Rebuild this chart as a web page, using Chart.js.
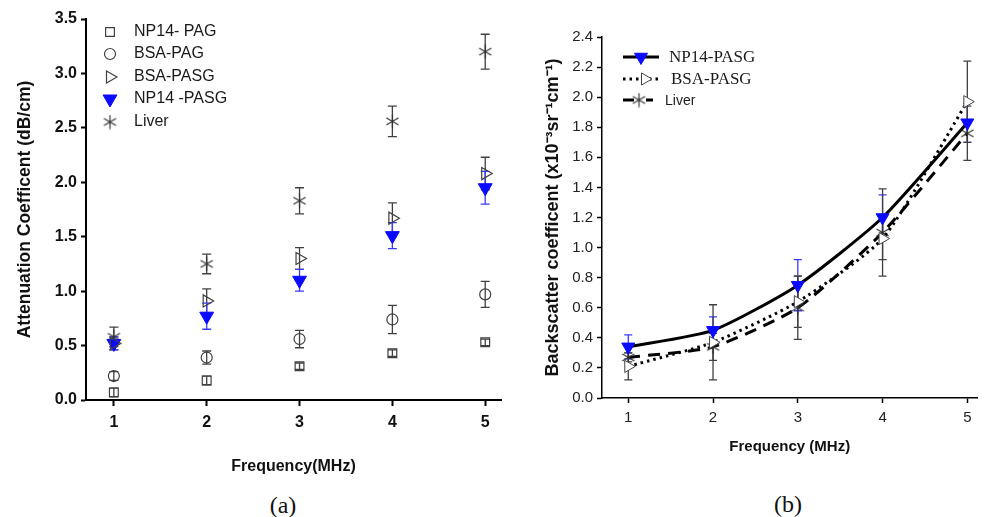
<!DOCTYPE html>
<html><head><meta charset="utf-8">
<script src="https://cdn.jsdelivr.net/npm/chart.js@4.4.1/dist/chart.umd.min.js"></script>
<style>
html,body{margin:0;padding:0;background:#fff;width:986px;height:517px;overflow:hidden;}
#ca{position:absolute;left:0;top:0;}
#cb{position:absolute;left:500px;top:0;}
.cap{position:absolute;font-family:'Liberation Serif','Times New Roman',serif;font-size:24px;color:#111;transform:translate(-50%,-50%);white-space:nowrap;}
</style></head><body>
<canvas id="ca" width="510" height="480"></canvas>
<canvas id="cb" width="486" height="470"></canvas>
<div class="cap" style="left:283px;top:505px">(a)</div>
<div class="cap" style="left:788px;top:504px">(b)</div>
<script>
// ---------- DATA ----------
const freq = [1, 2, 3, 4, 5];
const xTicks = [1, 2, 3, 4, 5];

// (a) Attenuation coefficient (dB/cm)
const attLabels = ['NP14- PAG', 'BSA-PAG', 'BSA-PASG', 'NP14 -PASG', 'Liver'];
const attNP14PAG  = [0.07, 0.18, 0.31, 0.43, 0.53];
const attNP14PAGErr = [0.04, 0.04, 0.03, 0.03, 0.03];
const attBSAPAG   = [0.22, 0.39, 0.56, 0.74, 0.97];
const attBSAPAGErr = [0.04, 0.06, 0.08, 0.13, 0.12];
const attBSAPASG  = [0.52, 0.91, 1.30, 1.67, 2.08];
const attBSAPASGErr = [0.06, 0.11, 0.10, 0.14, 0.15];
const attNP14PASG = [0.52, 0.77, 1.10, 1.51, 1.95];
const attNP14PASGErr = [0.06, 0.12, 0.10, 0.12, 0.15];
const attLiver    = [0.58, 1.25, 1.83, 2.56, 3.20];
const attLiverErr = [0.09, 0.09, 0.12, 0.14, 0.16];
const attYTicks = [0, 0.5, 1.0, 1.5, 2.0, 2.5, 3.0, 3.5];

// (b) Backscatter coefficient (x10^-3 sr^-1 cm^-1)
const bscLabels = ['NP14-PASG', 'BSA-PASG', 'Liver'];
const bscNP14PASG = [0.34, 0.45, 0.75, 1.20, 1.83];
const bscNP14PASGErr = [0.08, 0.09, 0.17, 0.15, 0.13];
const bscBSAPASG  = [0.21, 0.37, 0.64, 1.06, 1.97];
const bscBSAPASGErr = [0.09, 0.25, 0.17, 0.14, 0.27];
const bscLiver    = [0.27, 0.34, 0.60, 1.10, 1.76];
const bscLiverErr = [0.03, 0.09, 0.21, 0.29, 0.18];
const bscYTicks = [0, 0.2, 0.4, 0.6, 0.8, 1.0, 1.2, 1.4, 1.6, 1.8, 2.0, 2.2, 2.4];

// ---------- helpers ----------
const pts = arr => freq.map((f, i) => ({x: f, y: arr[i]}));
const BLUE = '#0a0aff';
const GREY = '#404040';

function makeAsterisk(size, color, lw) {
  const c = document.createElement('canvas');
  c.width = c.height = size;
  const g = c.getContext('2d');
  g.strokeStyle = color; g.lineWidth = lw;
  const cx = size / 2, r = size / 2 - 0.5;
  for (let k = 0; k < 3; k++) {
    const a = k * Math.PI / 3;
    g.beginPath();
    g.moveTo(cx + r * Math.sin(a), cx - r * Math.cos(a));
    g.lineTo(cx - r * Math.sin(a), cx + r * Math.cos(a));
    g.stroke();
  }
  return c;
}
const starA = makeAsterisk(15, '#333', 1.2);
const starB = makeAsterisk(15, '#333', 1.2);

const errorBars = {
  id: 'errorBars',
  beforeDatasetsDraw(chart, args, opts) {
    const {ctx, scales: {x, y}} = chart;
    chart.data.datasets.forEach((ds, i) => {
      if (!ds.errors) return;
      ctx.save();
      ctx.strokeStyle = ds.errorColor || GREY;
      ctx.lineWidth = 1.3;
      const hw = opts.cap || 4;
      ds.data.forEach((p, j) => {
        const e = ds.errors[j];
        const px = x.getPixelForValue(p.x);
        const yt = y.getPixelForValue(p.y + e), yb = y.getPixelForValue(p.y - e);
        ctx.beginPath();
        ctx.moveTo(px, yt); ctx.lineTo(px, yb);
        ctx.moveTo(px - hw, yt); ctx.lineTo(px + hw, yt);
        ctx.moveTo(px - hw, yb); ctx.lineTo(px + hw, yb);
        ctx.stroke();
      });
      ctx.restore();
    });
  }
};

function drawMarker(ctx, ds, x, y) {
  ctx.save();
  ctx.fillStyle = ds.pointBackgroundColor;
  ctx.strokeStyle = ds.pointBorderColor;
  ctx.lineWidth = ds.pointBorderWidth;
  Chart.helpers.drawPoint(ctx, {
    pointStyle: ds.pointStyle, rotation: ds.pointRotation || 0,
    radius: ds.pointRadius, borderWidth: ds.pointBorderWidth
  }, x, y);
  ctx.restore();
}

const legendA = {
  id: 'legendA',
  afterDraw(chart) {
    const ctx = chart.ctx;
    const rows = [32, 54, 77, 99, 122];
    chart.data.datasets.forEach((ds, i) => {
      drawMarker(ctx, ds, 110, rows[i]);
      ctx.save();
      ctx.fillStyle = '#1a1a1a';
      ctx.font = '16px "Liberation Sans", Arial, sans-serif';
      ctx.textBaseline = 'middle';
      ctx.textAlign = 'left';
      ctx.fillText(ds.label, 134, rows[i]);
      ctx.restore();
    });
  }
};

const legendB = {
  id: 'legendB',
  afterDraw(chart) {
    const ctx = chart.ctx;
    const rows = [57, 79, 100];
    const markX = [141, 145, 139];
    const textX = [169, 171, 165];
    const fonts = ['17px "Liberation Serif", "Times New Roman", serif',
                   '17px "Liberation Serif", "Times New Roman", serif',
                   '14px "Liberation Sans", Arial, sans-serif'];
    chart.data.datasets.forEach((ds, i) => {
      ctx.save();
      ctx.strokeStyle = ds.borderColor;
      ctx.lineWidth = ds.borderWidth;
      ctx.setLineDash(ds.borderDash || []);
      ctx.lineCap = 'butt';
      ctx.beginPath();
      ctx.moveTo(123, rows[i]); ctx.lineTo(i === 2 ? 153 : 159, rows[i]);
      ctx.stroke();
      ctx.restore();
      if (i === 2) {
        ctx.save(); ctx.fillStyle = '#fff'; ctx.fillRect(134, rows[i] - 3, 12, 6); ctx.restore();
      }
      drawMarker(ctx, ds, markX[i], rows[i]);
      ctx.save();
      ctx.fillStyle = '#1a1a1a';
      ctx.font = fonts[i];
      ctx.textBaseline = 'middle';
      ctx.textAlign = 'left';
      ctx.fillText(ds.label, textX[i], rows[i] + 1);
      ctx.restore();
    });
  }
};

Chart.defaults.font.family = '"Liberation Sans", Arial, sans-serif';
Chart.defaults.color = '#111';

// ---------- Chart (a) ----------
new Chart(document.getElementById('ca'), {
  type: 'scatter',
  data: {
    datasets: [
      {label: attLabels[0], data: pts(attNP14PAG), errors: attNP14PAGErr, pointStyle: 'rect', pointRadius: 6.2,
       pointBackgroundColor: 'rgba(0,0,0,0)', pointBorderColor: GREY, pointBorderWidth: 1.2},
      {label: attLabels[1], data: pts(attBSAPAG), errors: attBSAPAGErr, pointStyle: 'circle', pointRadius: 5.5,
       pointBackgroundColor: 'rgba(0,0,0,0)', pointBorderColor: GREY, pointBorderWidth: 1.2},
      {label: attLabels[2], data: pts(attBSAPASG), errors: attBSAPASGErr, pointStyle: 'triangle', pointRotation: 90, pointRadius: 7,
       pointBackgroundColor: 'rgba(0,0,0,0)', pointBorderColor: GREY, pointBorderWidth: 1.2},
      {label: attLabels[3], data: pts(attNP14PASG), errors: attNP14PASGErr, errorColor: '#3a3aff', pointStyle: 'triangle', pointRotation: 180, pointRadius: 8,
       pointBackgroundColor: BLUE, pointBorderColor: BLUE, pointBorderWidth: 1},
      {label: attLabels[4], data: pts(attLiver), errors: attLiverErr, pointStyle: starA, pointRadius: 7,
       pointBackgroundColor: GREY, pointBorderColor: GREY, pointBorderWidth: 1}
    ]
  },
  options: {
    responsive: false, animation: false, events: [],
    layout: {padding: {top: 19, right: 5, left: 0, bottom: 0}},
    plugins: {legend: {display: false}, tooltip: {enabled: false}, errorBars: {cap: 4.5}},
    scales: {
      x: {
        type: 'linear', min: 0.7, max: 5.17,
        afterFit(s) { s.height = 80; },
        afterBuildTicks(s) { s.ticks = xTicks.map(v => ({value: v})); },
        grid: {display: true, drawOnChartArea: false, drawTicks: true, tickLength: 6, tickColor: '#000', tickWidth: 2},
        border: {display: true, color: '#000', width: 2},
        ticks: {font: {size: 16, weight: 'bold'}, color: '#111', padding: 7},
        title: {display: true, text: 'Frequency(MHz)', font: {size: 16, weight: 'bold'}, color: '#111', padding: {top: 0, bottom: 4}}
      },
      y: {
        min: 0, max: 3.5,
        afterFit(s) { s.width = 86; },
        afterBuildTicks(s) { s.ticks = attYTicks.map(v => ({value: v})); },
        grid: {display: true, drawOnChartArea: false, drawTicks: true, tickLength: 5, tickColor: '#000', tickWidth: 2},
        border: {display: true, color: '#000', width: 2},
        ticks: {font: {size: 16, weight: 'bold'}, color: '#111', padding: 4, callback: v => v.toFixed(1)},
        title: {display: true, text: 'Attenuation Coefficent (dB/cm)', font: {size: 17.5, weight: 'bold'}, color: '#111', padding: {top: 15, bottom: 0}}
      }
    }
  },
  plugins: [errorBars, legendA]
});

// ---------- Chart (b) ----------
new Chart(document.getElementById('cb'), {
  type: 'line',
  data: {
    datasets: [
      {label: bscLabels[0], data: pts(bscNP14PASG), errors: bscNP14PASGErr, errorColor: '#3a3aff',
       borderColor: '#000', borderWidth: 3, tension: 0.2, fill: false,
       pointStyle: 'triangle', pointRotation: 180, pointRadius: 7.5,
       pointBackgroundColor: BLUE, pointBorderColor: BLUE, pointBorderWidth: 1},
      {label: bscLabels[1], data: pts(bscBSAPASG), errors: bscBSAPASGErr,
       borderColor: '#000', borderWidth: 3, borderDash: [2.5, 4], tension: 0.2, fill: false,
       pointStyle: 'triangle', pointRotation: 90, pointRadius: 7,
       pointBackgroundColor: '#fff', pointBorderColor: '#444', pointBorderWidth: 1},
      {label: bscLabels[2], data: pts(bscLiver), errors: bscLiverErr,
       borderColor: '#000', borderWidth: 3, borderDash: [12, 8], tension: 0.2, fill: false,
       pointStyle: starB, pointRadius: 7,
       pointBackgroundColor: '#333', pointBorderColor: '#333', pointBorderWidth: 1}
    ]
  },
  options: {
    responsive: false, animation: false, events: [],
    layout: {padding: {top: 37, right: 1, left: 0, bottom: 0}},
    plugins: {legend: {display: false}, tooltip: {enabled: false}, errorBars: {cap: 4}},
    scales: {
      x: {
        type: 'linear', min: 0.69, max: 5.12,
        afterFit(s) { s.height = 72; },
        afterBuildTicks(s) { s.ticks = xTicks.map(v => ({value: v})); },
        grid: {display: true, drawOnChartArea: false, drawTicks: true, tickLength: 5, tickColor: '#000', tickWidth: 1.5},
        border: {display: true, color: '#000', width: 1.5},
        ticks: {font: {size: 15}, color: '#222', padding: 6},
        title: {display: true, text: 'Frequency (MHz)', font: {size: 15, weight: 'bold'}, color: '#111', padding: {top: 0, bottom: 14}}
      },
      y: {
        min: 0, max: 2.4,
        afterFit(s) { s.width = 102; },
        afterBuildTicks(s) { s.ticks = bscYTicks.map(v => ({value: v})); },
        grid: {display: true, drawOnChartArea: false, drawTicks: true, tickLength: 5, tickColor: '#000', tickWidth: 1.5},
        border: {display: true, color: '#000', width: 1.5},
        ticks: {font: {size: 15}, color: '#222', padding: 4, callback: v => v.toFixed(1)},
        title: {display: true, text: 'Backscatter coefficent (x10\u207B\u00B3sr\u207B\u00B9cm\u207B\u00B9)', font: {size: 18, weight: 'bold'}, color: '#111', padding: {top: 42, bottom: 0}}
      }
    }
  },
  plugins: [errorBars, legendB]
});
</script>
</body></html>
